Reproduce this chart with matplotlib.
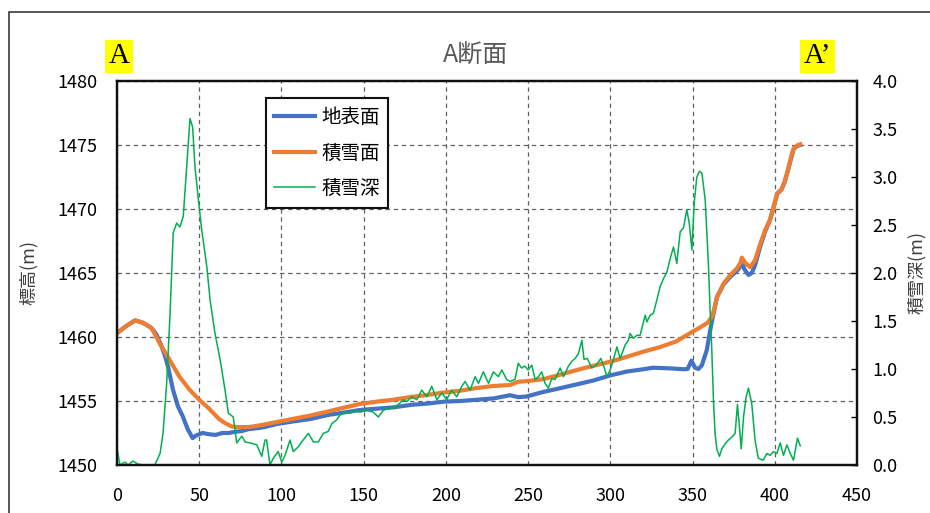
import matplotlib
matplotlib.use("Agg")
import matplotlib.pyplot as plt
from matplotlib.patches import Rectangle
from matplotlib.ticker import FormatStrFormatter

plt.rcParams['font.family'] = ['Noto Sans CJK JP', 'DejaVu Sans']

# ---- 地表面 (ground elevation, m) ----
ground_x = [0, 5, 11, 16, 21, 24, 27, 29, 31, 34, 37, 40, 43, 46, 48, 52, 56, 60,
            64, 68, 72, 76, 80, 87, 91, 97, 107, 118, 128, 138, 148, 158, 168, 179,
            189, 199, 209, 219, 229, 239, 244, 249, 259, 269.5, 279.6, 289.7, 300,
            310, 320, 326, 336, 344.5, 347, 349.3, 351.5, 353.6, 355.7, 358.7,
            360.7, 362.7, 364.8, 368.8, 372.9, 376.5, 378.5, 380, 381.5, 384,
            386, 388, 391, 394, 397, 399, 401.5, 404, 406, 408, 410, 411.5, 414,
            415.5]
ground_z = [1460.3, 1460.8, 1461.3, 1461.1, 1460.7, 1460.2, 1459.3, 1458.6, 1457.7,
            1455.9, 1454.6, 1453.8, 1452.8, 1452.1, 1452.3, 1452.5, 1452.4, 1452.35,
            1452.5, 1452.5, 1452.6, 1452.65, 1452.8, 1452.9, 1453.0, 1453.2, 1453.4,
            1453.6, 1453.9, 1454.1, 1454.3, 1454.4, 1454.5, 1454.7, 1454.8, 1454.95,
            1455.0, 1455.1, 1455.2, 1455.45, 1455.3, 1455.35, 1455.7, 1456.0,
            1456.3, 1456.6, 1457.0, 1457.3, 1457.48, 1457.6, 1457.55, 1457.48,
            1457.5, 1458.15, 1457.6, 1457.5, 1457.8, 1459.0, 1460.5, 1461.8,
            1463.1, 1464.1, 1464.7, 1465.1, 1465.4, 1465.9, 1465.3, 1464.85,
            1465.0, 1465.6, 1467.0, 1468.2, 1469.1, 1470.0, 1471.2, 1471.5,
            1472.1, 1473.0, 1474.0, 1474.7, 1474.95, 1475.0]

# ---- 積雪面 (snow surface elevation, m) ----
snow_x = [0, 5, 11, 16, 21, 26, 32, 38, 44, 50, 56, 62, 66, 70, 75, 80.5, 87, 91,
          97, 107, 117, 127.7, 137, 147.8, 158, 168, 178, 188.6, 198, 208.6, 218,
          228.7, 239, 244, 249, 259, 269.5, 279.6, 289.7, 300, 310, 320, 330, 340,
          348.5, 354, 359, 362, 365, 369, 373, 377, 379, 380, 382, 385, 388, 391,
          394, 397, 399, 401.5, 404, 406, 408, 410, 411.5, 414, 415.5]
snow_z = [1460.3, 1460.8, 1461.3, 1461.1, 1460.7, 1459.5, 1458.2, 1456.9, 1455.9,
          1455.1, 1454.4, 1453.6, 1453.25, 1453.0, 1452.95, 1452.97, 1453.1,
          1453.2, 1453.35, 1453.6, 1453.85, 1454.16, 1454.45, 1454.77, 1454.95,
          1455.1, 1455.3, 1455.47, 1455.65, 1455.8, 1456.0, 1456.17, 1456.25,
          1456.5, 1456.55, 1456.7, 1457.05, 1457.42, 1457.75, 1458.07, 1458.45,
          1458.85, 1459.2, 1459.65, 1460.3, 1460.7, 1461.1, 1461.6, 1463.15,
          1464.2, 1464.84, 1465.37, 1465.76, 1466.2, 1465.8, 1465.45, 1466.0,
          1467.2, 1468.3, 1469.14, 1470.0, 1471.2, 1471.5, 1472.13, 1473.05,
          1474.1, 1474.74, 1475.0, 1475.05]

# ---- 積雪深 (snow depth, m) ----
depth_x = [0, 1.8, 4.9, 6.7, 9.7, 12.8, 15.8, 19, 23, 26.2, 28, 30.2, 32.2, 34.2,
           36.3, 38.3, 40.3, 42.4, 44.4, 46, 47.4, 49.5, 51.5, 54.6, 56.6, 59.6,
           62.7, 65.7, 67.7, 70.7, 72.8, 75.9, 77.9, 80.9, 85, 88, 90, 91, 93, 95,
           98, 100.2, 102.2, 105.2, 107.2, 110.3, 112.3, 116.4, 119.4, 122.4,
           125.5, 128.5, 130.6, 133.6, 135.6, 138.7, 141.7, 144.8, 147.8, 151.9,
           155.9, 158.9, 162, 165, 168.1, 171.1, 174.1, 176.2, 179.3, 182.3, 185.3,
           188.4, 191.4, 194.5, 197.5, 200.5, 203.5, 206.6, 209.7, 211.7, 214.7,
           217.8, 219.8, 222.8, 225.9, 228.9, 231.9, 234, 237, 239, 242, 244, 246,
           248, 250, 252.2, 254.3, 256.3, 258.3, 260.3, 262.3, 264.4, 266.4,
           269.5, 271.5, 274.5, 276.6, 278.6, 280.6, 282.7, 284, 286, 288.7, 291.4,
           294.2, 296.4, 297.9, 299.9, 301.9, 304, 306, 309, 311, 312, 314, 316.1,
           318.1, 321.2, 322.2, 324.2, 326.2, 328.3, 330.3, 332.3, 334.4, 336.4,
           338.4, 340.4, 342.5, 344.5, 346.5, 348, 349.6, 351, 352.6, 354.2, 355.7,
           357.7, 358.7, 359.7, 360.7, 361.7, 362.7, 363.7, 364.8, 366.4, 367.8,
           369.8, 371.8, 373.9, 375.9, 377.3, 378.3, 379.6, 381, 382.6, 384, 386,
           388, 390, 393, 395.2, 397.2, 399.2, 401.3, 403.3, 405.3, 407.4, 409.4,
           411.4, 413.8, 415.5]
depth_d = [0.18, 0.0, 0.03, 0.0, 0.04, 0.01, 0.0, 0.0, 0.0, 0.12, 0.33, 0.85, 1.55,
           2.42, 2.52, 2.48, 2.59, 3.11, 3.61, 3.52, 3.11, 2.76, 2.45, 2.07, 1.72,
           1.37, 1.1, 0.78, 0.54, 0.5, 0.23, 0.3, 0.24, 0.23, 0.21, 0.09, 0.26,
           0.26, 0.0, 0.07, 0.14, 0.03, 0.1, 0.26, 0.14, 0.19, 0.24, 0.33, 0.24,
           0.24, 0.33, 0.35, 0.43, 0.47, 0.52, 0.55, 0.54, 0.57, 0.55, 0.57, 0.55,
           0.5, 0.57, 0.59, 0.59, 0.63, 0.68, 0.66, 0.71, 0.68, 0.78, 0.71, 0.82,
           0.68, 0.75, 0.68, 0.78, 0.71, 0.82, 0.87, 0.78, 0.92, 0.85, 0.97, 0.85,
           0.97, 0.92, 0.99, 0.89, 0.87, 0.89, 1.06, 1.01, 1.03, 0.99, 1.04, 0.89,
           0.92, 0.97, 0.85, 0.8, 0.9, 0.89, 1.01, 0.92, 1.03, 1.08, 1.11, 1.16,
           1.30, 1.1, 1.11, 1.01, 1.04, 1.11, 1.01, 0.92, 0.99, 1.1, 1.23, 1.11,
           1.25, 1.30, 1.37, 1.32, 1.35, 1.35, 1.56, 1.49, 1.56, 1.58, 1.72, 1.86,
           1.94, 2.01, 2.15, 2.27, 2.1, 2.43, 2.47, 2.66, 2.52, 2.24, 2.73, 3.0,
           3.06, 3.04, 2.76, 2.41, 2.07, 1.61, 1.2, 0.68, 0.33, 0.16, 0.09, 0.17,
           0.22, 0.26, 0.29, 0.33, 0.63, 0.44, 0.17, 0.5, 0.71, 0.8, 0.64, 0.26,
           0.07, 0.05, 0.12, 0.1, 0.14, 0.12, 0.23, 0.1, 0.21, 0.12, 0.05, 0.28,
           0.2]

x_ticks = [0, 50, 100, 150, 200, 250, 300, 350, 400, 450]
elev_ticks = [1450, 1455, 1460, 1465, 1470, 1475, 1480]
depth_ticks = [0.0, 0.5, 1.0, 1.5, 2.0, 2.5, 3.0, 3.5, 4.0]

fig = plt.figure(figsize=(9.3, 5.13), dpi=100)
ax = fig.add_axes([0.1258, 0.0936, 0.7957, 0.7485])
ax2 = ax.twinx()

# outer frame of the chart area
fig.patches.append(Rectangle((0.0097, -0.1), 1.2, 1.0766, transform=fig.transFigure,
                             fill=False, edgecolor='#3a3a3a', linewidth=1.2))

l1, = ax.plot(ground_x, ground_z, color='#4472C4', linewidth=3.0, label='地表面')
l2, = ax.plot(snow_x, snow_z, color='#ED7D31', linewidth=3.0, label='積雪面')
l3, = ax2.plot(depth_x, depth_d, color='#00B050', linewidth=1.1, label='積雪深')

ax.set_xlim(0, 450)
ax.set_ylim(1450, 1480)
ax2.set_ylim(0, 4)
ax.set_xticks(x_ticks)
ax.set_yticks(elev_ticks)
ax2.set_yticks(depth_ticks)
ax2.yaxis.set_major_formatter(FormatStrFormatter('%.1f'))

ax.grid(True, color='#606060', linestyle=(0, (3.5, 3)), linewidth=0.9)
ax.set_axisbelow(True)

ax.tick_params(axis='x', length=0, pad=16, labelsize=13)
ax.tick_params(axis='y', length=0, pad=14, labelsize=13)
ax2.tick_params(axis='y', direction='in', length=4, width=1, pad=11, labelsize=13)

for a in (ax, ax2):
    for s in a.spines.values():
        s.set_color('#111111')
        s.set_linewidth(1.6)

ax.set_ylabel('標高(m)', fontsize=13, color='#404040', labelpad=14)
ax2.set_ylabel('積雪深(m)', fontsize=13, color='#404040', labelpad=7)

leg = ax2.legend(handles=[l1, l2, l3], loc='upper left',
                 bbox_to_anchor=(0.201, 0.955), fontsize=14, frameon=True,
                 fancybox=False, framealpha=1, edgecolor='#111111',
                 handlelength=2.1, handletextpad=0.3, labelspacing=0.75,
                 borderpad=0.45, borderaxespad=0)
leg.get_frame().set_linewidth(1.5)

fig.text(0.511, 0.892, 'A断面', fontsize=18, color='#595959', ha='center', va='center')

mark_box = dict(facecolor='#FFFF00', edgecolor='none', pad=2.5)
fig.text(0.128, 0.890, 'A', family='Liberation Serif', fontsize=21, ha='center',
         va='center', bbox=mark_box)
fig.text(0.879, 0.890, 'A’', family='Liberation Serif', fontsize=21, ha='center',
         va='center', bbox=mark_box)

fig.savefig('out.png', dpi=100)
